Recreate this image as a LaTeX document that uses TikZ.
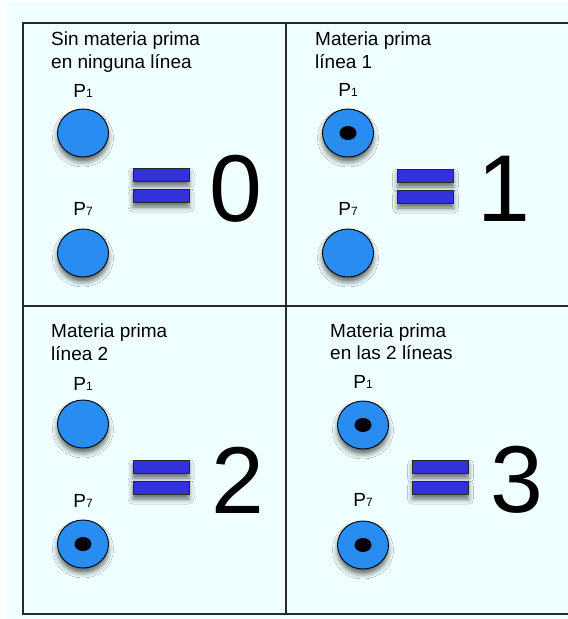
\documentclass[tikz,border=0pt]{standalone}
\usepackage{fontspec}
\setmainfont{Liberation Sans}
\usepackage{tikz}
\usetikzlibrary{shapes.geometric, shadows.blur}
\definecolor{bgcyan}{RGB}{240,255,255}
\definecolor{placeblue}{RGB}{40,140,240}
\definecolor{barblue}{RGB}{50,50,220}
\definecolor{framegray}{RGB}{40,40,40}
\newcommand{\plab}[1]{P{\fontsize{12}{12}\selectfont #1}}

\begin{document}
\begin{tikzpicture}[x=1pt, y=-1pt,
  softshadow/.style={blur shadow={shadow xshift=0pt, shadow yshift=-5pt, shadow blur radius=5pt, shadow opacity=60}},
  place/.style={ellipse, draw=black, line width=0.9pt, fill=placeblue, minimum width=51pt, minimum height=48pt, inner sep=0pt, softshadow},
  token/.style={ellipse, fill=black, minimum width=17pt, minimum height=14pt, inner sep=0pt},
  bar/.style={rectangle, draw=black!85, line width=0.8pt, fill=barblue, minimum width=56pt, minimum height=13pt, inner sep=0pt, softshadow},
  caption/.style={anchor=base west, inner sep=0pt, font=\fontsize{19}{23}\selectfont},
  plabel/.style={anchor=base, inner sep=0pt, font=\fontsize{19}{23}\selectfont},
  digit/.style={anchor=base, inner sep=0pt, font=\fontsize{95}{95}\selectfont},
  grid/.style={framegray, line width=1.4pt}]
  \useasboundingbox (0,0) rectangle (568,619);
  \fill[bgcyan] (7,3) rectangle (568,619);
  % frame
  \draw[grid] (568,23) -- (23,23) -- (23,614) -- (568,614);
  \draw[grid] (286,23) -- (286,614);
  \draw[grid] (23,306) -- (568,306);

  % top left: 0
  \node[caption] (capa1) at (51,45.5) {Sin materia prima};
  \node[caption] (capa2) at (51,68) {en ninguna línea};
  \node[plabel] (laba1) at (83,97) {\plab{1}};
  \node[place] (pa1) at (83,133) {};
  \node[plabel] (laba7) at (83,215) {\plab{7}};
  \node[place] (pa7) at (83,253) {};
  \node[bar] (eqa1) at (161,174.5) {};
  \node[bar] (eqa2) at (161,195.5) {};
  \node[digit] (numa) at (236,221) {0};

  % top right: 1
  \node[caption] (capb1) at (315,45.5) {Materia prima};
  \node[caption] (capb2) at (315,68) {línea 1};
  \node[plabel] (labb1) at (348,96) {\plab{1}};
  \node[place] (pb1) at (348,133) {};
  \node[token] (tb1) at (pb1) {};
  \node[plabel] (labb7) at (348,215) {\plab{7}};
  \node[place] (pb7) at (348,253) {};
  \node[bar] (eqb1) at (425.5,175.5) {};
  \node[bar] (eqb2) at (425.5,196.5) {};
  \node[digit] (numb) at (503.5,221) {1};

  % bottom left: 2
  \node[caption] (capc1) at (51,337) {Materia prima};
  \node[caption] (capc2) at (51,360) {línea 2};
  \node[plabel] (labc1) at (83,390) {\plab{1}};
  \node[place] (pc1) at (83,424) {};
  \node[plabel] (labc7) at (83,507) {\plab{7}};
  \node[place] (pc7) at (83,544) {};
  \node[token] (tc7) at (pc7) {};
  \node[bar] (eqc1) at (161,466.5) {};
  \node[bar] (eqc2) at (161,487.5) {};
  \node[digit] (numc) at (237.5,513) {2};

  % bottom right: 3
  \node[caption] (capd1) at (330,337) {Materia prima};
  \node[caption] (capd2) at (330,359.5) {en las 2 líneas};
  \node[plabel] (labd1) at (363,388) {\plab{1}};
  \node[place] (pd1) at (363,425) {};
  \node[token] (td1) at (pd1) {};
  \node[plabel] (labd7) at (363,506) {\plab{7}};
  \node[place] (pd7) at (363,545) {};
  \node[token] (td7) at (pd7) {};
  \node[bar] (eqd1) at (440.5,466.5) {};
  \node[bar] (eqd2) at (440.5,487.5) {};
  \node[digit] (numd) at (516.5,512) {3};
\end{tikzpicture}
\end{document}
